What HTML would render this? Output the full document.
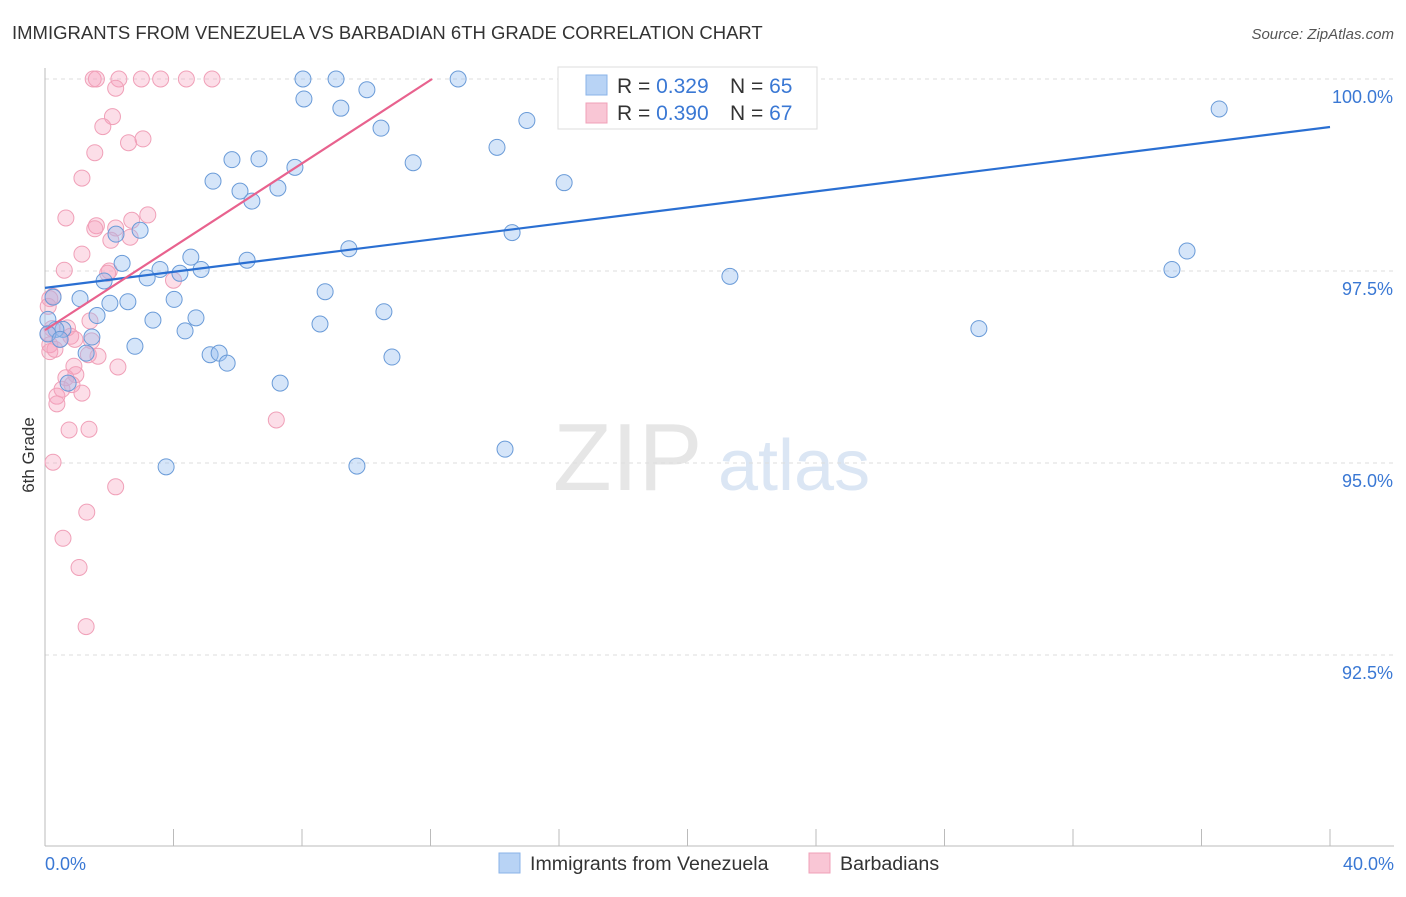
<!DOCTYPE html>
<html><head><meta charset="utf-8"><style>
body{margin:0;background:#fff;font-family:"Liberation Sans",sans-serif;}
svg text{font-family:"Liberation Sans",sans-serif;}
</style></head><body>
<svg width="1406" height="892" id="chart">
<text x="12" y="39" font-size="18.5" fill="#333">IMMIGRANTS FROM VENEZUELA VS BARBADIAN 6TH GRADE CORRELATION CHART</text>
<text x="1394" y="39" font-size="15" fill="#555" text-anchor="end" font-style="italic">Source: ZipAtlas.com</text>
<text x="34" y="455" font-size="17" fill="#333" transform="rotate(-90 34 455)" text-anchor="middle">6th Grade</text>
<text x="553" y="490" font-size="96" fill="#e6e6e6" font-family="Liberation Serif">ZIP</text>
<text x="718" y="490" font-size="72" fill="#dbe6f4">atlas</text>
<g id="grid"></g><g id="axes"></g><g id="pts"></g><g id="trend"></g>
<g>
<rect x="558" y="67" width="259" height="62" fill="#fff" stroke="#ddd"/>
<rect x="586" y="75" width="21" height="20" fill="#b8d3f5" stroke="#8ab3e8"/>
<rect x="586" y="103" width="21" height="20" fill="#f9c6d5" stroke="#f0a0b8"/>
<text x="617" y="93" font-size="21" fill="#333">R = <tspan fill="#3a78d4">0.329</tspan></text>
<text x="730" y="93" font-size="21" fill="#333">N = <tspan fill="#3a78d4">65</tspan></text>
<text x="617" y="120" font-size="21" fill="#333">R = <tspan fill="#3a78d4">0.390</tspan></text>
<text x="730" y="120" font-size="21" fill="#333">N = <tspan fill="#3a78d4">67</tspan></text>
</g>
<g>
<rect x="499" y="853" width="21" height="20" fill="#b8d3f5" stroke="#8ab3e8"/>
<text x="530" y="870" font-size="19.6" fill="#333">Immigrants from Venezuela</text>
<rect x="809" y="853" width="21" height="20" fill="#f9c6d5" stroke="#f0a0b8"/>
<text x="840" y="870" font-size="19.6" fill="#333">Barbadians</text>
</g>
</svg>
<script>
const blueX=[8.03,9.06,12.86,8.06,9.21,10.02,10.46,11.46,14.07,15.0,16.16,14.54,36.55,35.55,35.08,21.32,29.07,14.32,9.71,3.77,10.8,10.55,8.72,8.56,9.46,7.78,7.25,6.66,5.82,5.23,6.07,6.44,6.29,4.54,4.86,4.2,3.58,3.18,2.4,1.84,2.96,2.21,1.09,0.25,2.58,2.02,1.62,4.02,4.7,3.36,4.36,2.8,1.46,0.56,0.34,0.09,5.14,5.42,5.67,7.32,0.72,1.28,0.09,0.47,21.95];
const blueY=[100,100,100,99.74,99.62,99.86,99.36,98.91,99.11,99.46,98.65,98.0,99.61,97.76,97.52,97.43,96.75,95.18,94.96,94.95,96.38,96.97,97.23,96.81,97.79,98.85,98.58,98.96,98.95,98.67,98.54,98.41,97.64,97.68,97.52,97.47,97.52,97.41,97.60,97.37,98.03,97.98,97.14,97.16,97.10,97.08,96.92,97.13,96.89,96.86,96.72,96.52,96.64,96.74,96.74,96.87,96.41,96.43,96.30,96.04,96.04,96.43,96.68,96.61,99.99];
const pinkX=[1.5,1.6,2.3,3.0,3.6,4.4,5.2,18.4,2.2,2.1,1.8,3.05,2.6,1.55,1.15,0.65,3.2,1.6,1.55,2.7,2.2,2.05,2.65,1.15,0.6,2.0,4.0,1.95,0.25,0.15,0.22,0.1,0.8,0.7,1.4,1.45,0.15,0.47,1.35,1.65,2.27,0.15,0.9,0.96,0.65,0.53,0.84,1.15,0.37,0.37,0.75,1.37,7.2,0.25,2.2,1.3,0.56,1.06,1.28,0.1,0.31,0.93];
const pinkY=[100,100,100,100,100,100,100,100,99.88,99.51,99.38,99.22,99.17,99.04,98.71,98.19,98.23,98.09,98.05,98.16,98.06,97.90,97.94,97.72,97.51,97.50,97.38,97.47,97.17,97.14,96.75,96.69,96.65,96.76,96.85,96.59,96.54,96.61,96.41,96.39,96.25,96.45,96.26,96.15,96.11,95.96,96.02,95.91,95.87,95.77,95.43,95.44,95.56,95.01,94.69,94.36,94.02,93.64,92.87,97.04,96.48,96.61];
const yTicks=[100,97.5,95,92.5];
const yTickLabels=["100.0%","97.5%","95.0%","92.5%"];
const blueTrend=[[0,97.28],[40,99.375]];
const pinkTrend=[[0,96.73],[12.05,100]];
const NS="http://www.w3.org/2000/svg";
const X=v=>45+v/40*1285, Y=v=>79+(100-v)/2.5*192;
function mk(t,a,p){const e=document.createElementNS(NS,t);for(const k in a)e.setAttribute(k,a[k]);document.getElementById(p).appendChild(e);return e;}
yTicks.forEach((t,i)=>{
 const l=mk('line',{x1:45,x2:1394,y1:Y(t),y2:Y(t),stroke:'#ddd','stroke-dasharray':'4,4'},'grid');
 
 
 const tx=mk('text',{x:1393,y:Y(t)+24,'font-size':18,fill:'#3a78d4','text-anchor':'end'},'grid');
 tx.textContent=yTickLabels[i];
 
 
});
mk('line',{x1:45,x2:45,y1:68,y2:846,stroke:'#bbb'},'axes');
mk('line',{x1:45,x2:1394,y1:846,y2:846,stroke:'#bbb'},'axes');
for(let i=0;i<=10;i++){mk('line',{x1:X(i*4),x2:X(i*4),y1:829,y2:846,stroke:'#bbb'},'axes');}
const xl=mk('text',{x:45,y:870,'font-size':18,fill:'#3a78d4'},'axes');xl.textContent='0.0%';


const xr=mk('text',{x:1394,y:870,'font-size':18,fill:'#3a78d4','text-anchor':'end'},'axes');xr.textContent='40.0%';


pinkX.forEach((v,i)=>{const c=mk('circle',{cx:X(v),cy:Y(pinkY[i]),r:8,fill:'rgba(245,160,188,0.35)',stroke:'#f0a0b8','stroke-width':1},'pts');
 
 });
blueX.forEach((v,i)=>{const c=mk('circle',{cx:X(v),cy:Y(blueY[i]),r:8,fill:'rgba(150,190,240,0.4)',stroke:'#6a9bd8','stroke-width':1},'pts');
 
 });
const bt=mk('line',{x1:X(blueTrend[0][0]),y1:Y(blueTrend[0][1]),x2:X(blueTrend[1][0]),y2:Y(blueTrend[1][1]),stroke:'#2a6fd2','stroke-width':2.2},'trend');


const pt=mk('line',{x1:X(pinkTrend[0][0]),y1:Y(pinkTrend[0][1]),x2:X(pinkTrend[1][0]),y2:Y(pinkTrend[1][1]),stroke:'#e8628e','stroke-width':2.2},'trend');


</script>
</body></html>
